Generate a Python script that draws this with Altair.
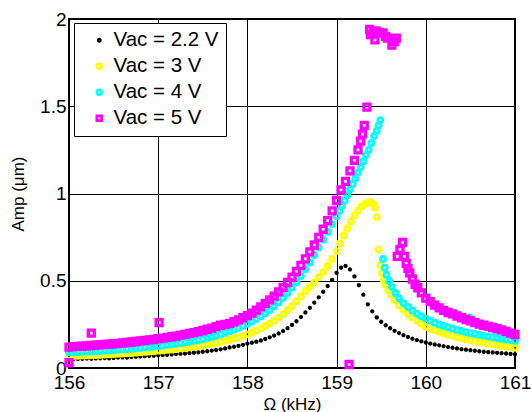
import altair as alt
import pandas as pd

# shared frequency grids (kHz)
f_lo = [156.00, 156.05, 156.10, 156.15, 156.20, 156.25, 156.30, 156.35, 156.40, 156.45,
        156.50, 156.55, 156.60, 156.65, 156.70, 156.75, 156.80, 156.85, 156.90, 156.95,
        157.00, 157.05, 157.10, 157.15, 157.20, 157.25, 157.30, 157.35, 157.40, 157.45,
        157.50, 157.55, 157.60, 157.65, 157.70, 157.75, 157.80, 157.85, 157.90, 157.95,
        158.00, 158.05, 158.10, 158.15, 158.20, 158.25, 158.30, 158.35, 158.40, 158.45,
        158.50, 158.55, 158.60, 158.65, 158.70, 158.75, 158.80, 158.85, 158.90, 158.95]
f_hi = [160.00, 160.05, 160.10, 160.15, 160.20, 160.25, 160.30, 160.35, 160.40, 160.45,
        160.50, 160.55, 160.60, 160.65, 160.70, 160.75, 160.80, 160.85, 160.90, 160.95, 161.00]

# Vac = 2.2 V
a22_lo = [0.050, 0.052, 0.051, 0.053, 0.054, 0.053, 0.055, 0.056, 0.057, 0.056,
          0.058, 0.060, 0.061, 0.060, 0.063, 0.065, 0.066, 0.068, 0.070, 0.071,
          0.073, 0.075, 0.076, 0.078, 0.080, 0.082, 0.083, 0.086, 0.088, 0.090,
          0.093, 0.096, 0.100, 0.103, 0.107, 0.112, 0.118, 0.122, 0.127, 0.133,
          0.140, 0.145, 0.151, 0.158, 0.167, 0.176, 0.186, 0.198, 0.212, 0.228,
          0.247, 0.268, 0.292, 0.318, 0.345, 0.375, 0.405, 0.437, 0.470, 0.505]
f22_mid = [159.00, 159.05, 159.10, 159.15, 159.20, 159.25, 159.30, 159.35, 159.40, 159.45,
           159.50, 159.55, 159.60, 159.65, 159.70, 159.75, 159.80, 159.85, 159.90, 159.95]
a22_mid = [0.545, 0.575, 0.585, 0.565, 0.525, 0.475, 0.420, 0.365, 0.325, 0.290,
           0.265, 0.245, 0.228, 0.213, 0.200, 0.188, 0.178, 0.168, 0.160, 0.153]
a22_hi = [0.146, 0.140, 0.135, 0.130, 0.125, 0.120, 0.116, 0.112, 0.108, 0.105, 0.102,
          0.099, 0.096, 0.093, 0.091, 0.089, 0.087, 0.085, 0.083, 0.081, 0.079]

# Vac = 3 V
a3_lo = [0.068, 0.069, 0.070, 0.071, 0.072, 0.073, 0.074, 0.075, 0.077, 0.078,
         0.080, 0.081, 0.083, 0.084, 0.086, 0.088, 0.090, 0.092, 0.094, 0.096,
         0.099, 0.101, 0.104, 0.106, 0.109, 0.112, 0.115, 0.118, 0.122, 0.126,
         0.130, 0.134, 0.139, 0.144, 0.150, 0.156, 0.162, 0.169, 0.176, 0.184,
         0.193, 0.203, 0.214, 0.226, 0.240, 0.255, 0.271, 0.289, 0.309, 0.331,
         0.355, 0.382, 0.410, 0.440, 0.465, 0.490, 0.520, 0.550, 0.585, 0.625]
f3_mid = [159.00, 159.04, 159.08, 159.12, 159.16, 159.20, 159.24, 159.28, 159.32, 159.35,
          159.38, 159.41, 159.43, 159.45, 159.47, 159.49, 159.51, 159.53, 159.55, 159.58,
          159.61, 159.65, 159.70, 159.75, 159.80, 159.85, 159.90, 159.95]
a3_mid = [0.670, 0.715, 0.760, 0.800, 0.840, 0.875, 0.900, 0.925, 0.940, 0.948,
          0.950, 0.940, 0.920, 0.865, 0.680, 0.590, 0.545, 0.505, 0.475, 0.445,
          0.420, 0.390, 0.360, 0.335, 0.310, 0.290, 0.272, 0.255]
a3_hi = [0.235, 0.226, 0.217, 0.208, 0.200, 0.192, 0.185, 0.178, 0.172, 0.166, 0.160,
         0.155, 0.150, 0.145, 0.141, 0.136, 0.132, 0.128, 0.124, 0.120, 0.116]

# Vac = 4 V
a4_lo = [0.090, 0.091, 0.092, 0.093, 0.094, 0.095, 0.097, 0.098, 0.100, 0.101,
         0.103, 0.105, 0.107, 0.109, 0.111, 0.113, 0.115, 0.118, 0.120, 0.123,
         0.126, 0.129, 0.132, 0.135, 0.139, 0.143, 0.147, 0.151, 0.156, 0.161,
         0.166, 0.172, 0.178, 0.185, 0.193, 0.201, 0.210, 0.220, 0.230, 0.241,
         0.253, 0.266, 0.281, 0.297, 0.314, 0.333, 0.354, 0.377, 0.402, 0.430,
         0.460, 0.492, 0.527, 0.565, 0.605, 0.647, 0.690, 0.735, 0.780, 0.825]
f4_mid = [159.00, 159.03, 159.06, 159.09, 159.12, 159.15, 159.18, 159.21, 159.24, 159.27,
          159.30, 159.33, 159.36, 159.39, 159.42, 159.45, 159.47, 159.49,
          159.52, 159.54, 159.56, 159.59, 159.62, 159.66, 159.70, 159.75, 159.80, 159.85,
          159.90, 159.95, 160.49]
a4_mid = [0.870, 0.900, 0.930, 0.960, 0.990, 1.025, 1.055, 1.085, 1.120, 1.150,
          1.185, 1.220, 1.250, 1.290, 1.330, 1.360, 1.390, 1.420,
          0.625, 0.575, 0.535, 0.500, 0.465, 0.430, 0.400, 0.372, 0.350, 0.330,
          0.312, 0.297, 0.290]
a4_hi = [0.283, 0.271, 0.260, 0.250, 0.241, 0.233, 0.226, 0.219, 0.212, 0.206, 0.200,
         0.195, 0.190, 0.185, 0.180, 0.176, 0.172, 0.168, 0.164, 0.160, 0.156]

# Vac = 5 V
a5_lo = [0.120, 0.122, 0.124, 0.125, 0.127, 0.129, 0.131, 0.133, 0.135, 0.137,
         0.139, 0.141, 0.144, 0.146, 0.149, 0.152, 0.155, 0.158, 0.161, 0.164,
         0.168, 0.171, 0.175, 0.179, 0.183, 0.188, 0.193, 0.198, 0.203, 0.209,
         0.215, 0.222, 0.229, 0.237, 0.245, 0.250, 0.255, 0.265, 0.276, 0.288,
         0.300, 0.315, 0.332, 0.350, 0.370, 0.390, 0.412, 0.436, 0.462, 0.490,
         0.520, 0.553, 0.588, 0.625, 0.665, 0.705, 0.748, 0.795, 0.845, 0.900]
f5_mid = [159.00, 159.05, 159.10, 159.15, 159.20, 159.24, 159.27, 159.29, 159.31, 159.34,
          159.37, 159.38, 159.41, 159.43, 159.45, 159.48, 159.52, 159.55, 159.57, 159.62,
          159.65, 159.67,
          159.68, 159.71, 159.74, 159.76, 159.78, 159.80, 159.82, 159.85, 159.88, 159.91, 159.95,
          156.00, 156.25, 157.01, 159.14]
a5_mid = [0.960, 1.020, 1.070, 1.130, 1.190, 1.250, 1.300, 1.340, 1.390, 1.495,
          1.940, 1.910, 1.930, 1.880, 1.930, 1.920, 1.920, 1.900, 1.890, 1.850,
          1.870, 1.890,
          0.640, 0.680, 0.720, 0.640, 0.600, 0.570, 0.545, 0.510, 0.480, 0.460, 0.430,
          0.030, 0.200, 0.260, 0.020]
a5_hi = [0.400, 0.380, 0.360, 0.345, 0.330, 0.318, 0.310, 0.298, 0.288, 0.278, 0.270,
         0.260, 0.252, 0.245, 0.238, 0.232, 0.225, 0.218, 0.210, 0.200, 0.192]

labels = ["Vac = 2.2 V", "Vac = 3 V", "Vac = 4 V", "Vac = 5 V"]
colors = ["#000000", "#ffff00", "#00ffff", "#ff00ff"]
DOT = "M-0.45,0A0.45,0.45,0,1,1,0.45,0A0.45,0.45,0,1,1,-0.45,0Z"
shapes = [DOT, "circle", "circle", "square"]
# marker style per series: symbol area and stroke width
marker_size = {labels[0]: 22, labels[1]: 24, labels[2]: 24, labels[3]: 36}
marker_stroke = {labels[0]: 2.2, labels[1]: 2.9, labels[2]: 2.9, labels[3]: 3.3}

def frame(label, f_mid, a_lo, a_mid, a_hi):
    d = pd.DataFrame({
        "f": f_lo + f_mid + f_hi,
        "amp": a_lo + a_mid + a_hi,
        "series": label,
    })
    d["sz"] = marker_size[label]
    d["sw"] = marker_stroke[label]
    return d

df = pd.concat([
    frame(labels[0], f22_mid, a22_lo, a22_mid, a22_hi),
    frame(labels[1], f3_mid, a3_lo, a3_mid, a3_hi),
    frame(labels[2], f4_mid, a4_lo, a4_mid, a4_hi),
    frame(labels[3], f5_mid, a5_lo, a5_mid, a5_hi),
], ignore_index=True)

FONT = "Liberation Sans"

legend = alt.Legend(
    title=None, orient="none", legendX=5, legendY=4,
    padding=7, rowPadding=5, labelFontSize=20.5, labelFont=FONT, labelColor="black",
    symbolOffset=8, labelOffset=4, strokeColor="black", fillColor="white",
    symbolSize=22, symbolStrokeWidth=2.8, cornerRadius=0,
)

chart = alt.Chart(df).mark_point(filled=False, opacity=1).encode(
    x=alt.X("f:Q", scale=alt.Scale(domain=[156, 161], nice=False, zero=False),
            axis=alt.Axis(values=[156, 157, 158, 159, 160, 161], format="d",
                          title="\u03a9 (kHz)", titleY=36, titleBaseline="middle")),
    y=alt.Y("amp:Q", scale=alt.Scale(domain=[0, 2], nice=False),
            axis=alt.Axis(values=[0, 0.5, 1, 1.5, 2], format="~g",
                          title="Amp (\u03bcm)", titleX=-51, titleBaseline="middle")),
    color=alt.Color("series:N", scale=alt.Scale(domain=labels, range=colors), legend=legend),
    shape=alt.Shape("series:N", scale=alt.Scale(domain=labels, range=shapes), legend=legend),
    size=alt.Size("sz:Q", scale=None, legend=None),
    strokeWidth=alt.StrokeWidth("sw:Q", scale=None, legend=None),
).properties(
    width=446, height=349,
    autosize=alt.AutoSizeParams(type="none"),
    padding={"left": 69, "top": 19, "right": 17, "bottom": 44},
).configure_view(
    stroke="black", strokeWidth=2,
).configure_axis(
    domain=False, ticks=False, grid=True, gridColor="black", gridOpacity=1, gridWidth=1,
    labelFont=FONT, labelFontSize=19, labelColor="black", labelPadding=3, labelFlush=False,
    titleFont=FONT, titleFontSize=17, titleFontWeight="normal", titleColor="black",
).configure_axisX(
    labelPadding=5,
)

chart.save("out.html", embed_options={"renderer": "svg", "actions": False})
